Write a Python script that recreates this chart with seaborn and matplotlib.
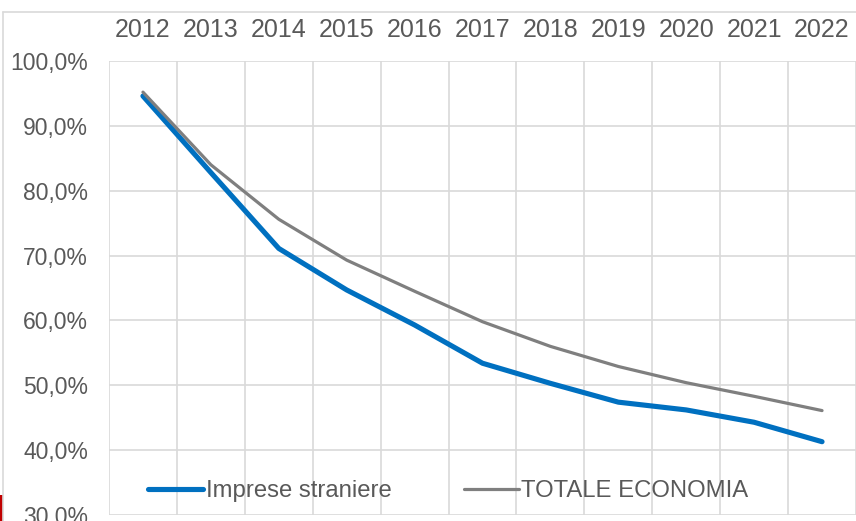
import pandas as pd
import seaborn as sns
import matplotlib.pyplot as plt
from matplotlib.lines import Line2D
from matplotlib.patches import Rectangle
from matplotlib.ticker import FuncFormatter, MultipleLocator

# data
years = [2012, 2013, 2014, 2015, 2016, 2017, 2018, 2019, 2020, 2021, 2022]
imprese_straniere = [94.6, 82.8, 71.1, 64.7, 59.3, 53.4, 50.3, 47.4, 46.2, 44.3, 41.3]
totale_economia = [95.2, 84.0, 75.6, 69.3, 64.5, 59.8, 56.0, 52.9, 50.4, 48.3, 46.1]
series_names = ["Imprese straniere", "TOTALE ECONOMIA"]

df = pd.DataFrame({
    "anno": years * 2,
    "valore": imprese_straniere + totale_economia,
    "serie": [series_names[0]] * len(years) + [series_names[1]] * len(years),
})

sns.set_style("white")
plt.rcParams["font.family"] = ["Liberation Sans", "DejaVu Sans"]

blue = "#0070C0"
grey = "#7F7F7F"
txt = "#595959"
grid_c = "#D9D9D9"

fig = plt.figure(figsize=(8.56, 5.21), dpi=100)
ax = fig.add_axes([109 / 856, 1 - 515 / 521, 1 - 109 / 856, (515 - 61) / 521])

sns.lineplot(data=df, x="anno", y="valore", hue="serie",
             palette={series_names[0]: blue, series_names[1]: grey},
             size="serie", sizes={series_names[0]: 3.7, series_names[1]: 2.3},
             legend=False, ax=ax, solid_capstyle="round")

ax.set_xlim(2011.5, 2022.5)
ax.set_ylim(30, 100)
ax.yaxis.set_major_locator(MultipleLocator(10))
ax.yaxis.set_major_formatter(FuncFormatter(lambda v, p: f"{v:.1f}%".replace(".", ",")))
ax.set_xticks(years)
ax.set_xticklabels([str(y) for y in years])
ax.set_xticks([y + 0.5 for y in [2011] + years], minor=True)
ax.xaxis.tick_top()

ax.grid(False)
ax.yaxis.grid(True, color=grid_c, lw=1.2)
ax.xaxis.grid(True, which="minor", color=grid_c, lw=1.2)
ax.set_axisbelow(True)
for s in ax.spines.values():
    s.set_visible(False)

ax.tick_params(axis="x", which="both", length=0, pad=13.5, labelsize=18, colors=txt)
ax.tick_params(axis="y", length=0, pad=15, labelsize=16.5, colors=txt)
ax.set_xlabel("")
ax.set_ylabel("")

handles = [Line2D([], [], color=blue, lw=3.7, solid_capstyle="round"),
           Line2D([], [], color=grey, lw=2.3, solid_capstyle="round")]
ax.legend(handles, series_names, loc="center", bbox_to_anchor=(0.4545, 0.052),
          ncol=2, frameon=False, fontsize=17.2, handlelength=2.3,
          handletextpad=0.12, columnspacing=3.0, labelcolor=txt)

# outer chart frame and small red mark at the edge
fig.add_artist(Line2D([3 / 856, 3 / 856], [0, 1 - 12 / 521], color=grid_c, lw=1.2))
fig.add_artist(Line2D([3 / 856, 1], [1 - 12 / 521, 1 - 12 / 521], color=grid_c, lw=1.2))
fig.add_artist(Rectangle((0, 0), 3 / 856, 26 / 521, color="#C00000", lw=0))

fig.savefig("out.png", dpi=100)
